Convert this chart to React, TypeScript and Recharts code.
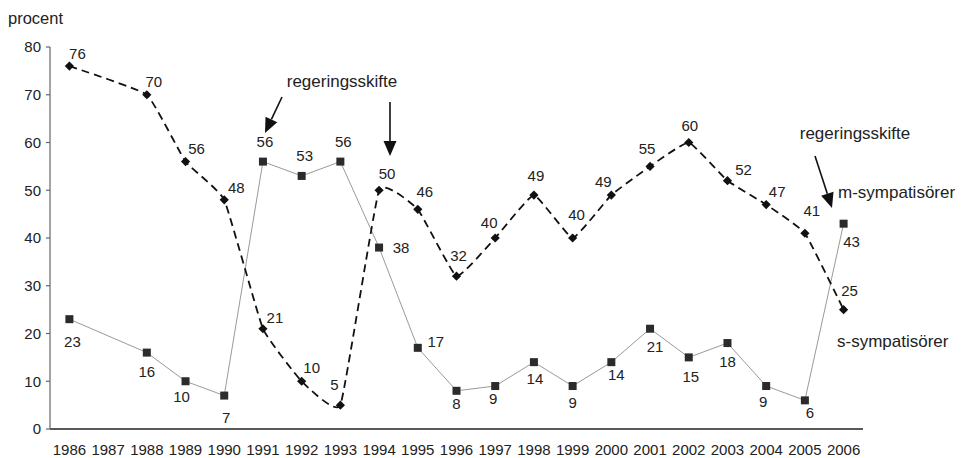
import React from 'react';
import { LineChart, Line, XAxis, YAxis, LabelList } from 'recharts';

// --- data ---
const years = ['1986', '1987', '1988', '1989', '1990', '1991', '1992', '1993', '1994', '1995', '1996',
  '1997', '1998', '1999', '2000', '2001', '2002', '2003', '2004', '2005', '2006'];
const mSympatisorer = [76, null, 70, 56, 48, 21, 10, 5, 50, 46, 32, 40, 49, 40, 49, 55, 60, 52, 47, 41, 25];
const sSympatisorer = [23, null, 16, 10, 7, 56, 53, 56, 38, 17, 8, 9, 14, 9, 14, 21, 15, 18, 9, 6, 43];
const yTicks = [0, 10, 20, 30, 40, 50, 60, 70, 80];

// label placement (dx, dy from the marker)
const mLabelOffset: Record<string, [number, number]> = {
  '1986': [8, -12], '1988': [7, -13], '1989': [11, -13], '1990': [12, -12], '1991': [12, -11],
  '1992': [10, -13], '1993': [-6, -20], '1994': [8, -16], '1995': [7, -17], '1996': [2, -20],
  '1997': [-6, -15], '1998': [2, -19], '1999': [4, -23], '2000': [-8, -13], '2001': [-3, -17],
  '2002': [1, -17], '2003': [16, -11], '2004': [11, -13], '2005': [7, -22], '2006': [6, -19],
};
const sLabelOffset: Record<string, [number, number]> = {
  '1986': [3, 23], '1988': [0, 19], '1989': [-4, 16], '1990': [2, 22], '1991': [2, -20],
  '1992': [3, -20], '1993': [3, -20], '1994': [22, 0], '1995': [18, -6], '1996': [0, 13],
  '1997': [-2, 13], '1998': [1, 17], '1999': [0, 17], '2000': [5, 13], '2001': [5, 18],
  '2002': [2, 20], '2003': [0, 19], '2004': [-3, 16], '2005': [5, 13], '2006': [8, 18],
};

const data = years.map((year, i) => ({ year, m: mSympatisorer[i], s: sSympatisorer[i] }));

const FONT = '"Liberation Sans", Arial, Helvetica, sans-serif';
const TEXT = '#222';

// mild smoothing, cardinal spline with high tension
const smoothCurve = (context: any) => {
  let pts: number[][] = [];
  const k = 1 / 18;
  return {
    areaStart() {},
    areaEnd() {},
    lineStart() { pts = []; },
    point(x: number, y: number) { pts.push([+x, +y]); },
    lineEnd() {
      if (!pts.length) return;
      context.moveTo(pts[0][0], pts[0][1]);
      for (let i = 0; i < pts.length - 1; i++) {
        const p0 = pts[Math.max(i - 1, 0)];
        const p1 = pts[i];
        const p2 = pts[i + 1];
        const p3 = pts[Math.min(i + 2, pts.length - 1)];
        context.bezierCurveTo(
          p1[0] + (p2[0] - p0[0]) * k, p1[1] + (p2[1] - p0[1]) * k,
          p2[0] - (p3[0] - p1[0]) * k, p2[1] - (p3[1] - p1[1]) * k,
          p2[0], p2[1]);
      }
    },
  };
};

const Diamond = (props: any) => {
  const { cx, cy, index } = props;
  if (cx == null || cy == null || props.value == null) return <g key={`d${index}`} />;
  const r = 4.6;
  return (
    <polygon key={`d${index}`} points={`${cx},${cy - r} ${cx + r},${cy} ${cx},${cy + r} ${cx - r},${cy}`} fill="#111" />
  );
};

const Square = (props: any) => {
  const { cx, cy, index } = props;
  if (cx == null || cy == null || props.value == null) return <g key={`s${index}`} />;
  return <rect key={`s${index}`} x={cx - 4} y={cy - 4} width={8} height={8} fill="#2b2b2b" />;
};

const makeLabel = (offsets: Record<string, [number, number]>) => (props: any) => {
  const { x, y, value, index } = props;
  if (value == null || x == null || y == null) return null;
  const [dx, dy] = offsets[years[index]] || [0, -15];
  return (
    <text key={`l${index}`} x={x + dx} y={y + dy + 5} textAnchor="middle" fontSize={15} fontFamily={FONT} fill={TEXT}>
      {value}
    </text>
  );
};

const Arrow = ({ x1, y1, x2, y2 }: { x1: number; y1: number; x2: number; y2: number }) => {
  const len = Math.hypot(x2 - x1, y2 - y1);
  const ux = (x2 - x1) / len;
  const uy = (y2 - y1) / len;
  const head = 15;
  const half = 6.5;
  const bx = x2 - ux * head;
  const by = y2 - uy * head;
  return (
    <g>
      <line x1={x1} y1={y1} x2={bx} y2={by} stroke="#111" strokeWidth={1.6} />
      <polygon points={`${x2},${y2} ${bx - uy * half},${by + ux * half} ${bx + uy * half},${by - ux * half}`} fill="#111" />
    </g>
  );
};

export default function App() {
  return (
    <div style={{ position: 'absolute', left: 0, top: 0, width: 963, height: 458, background: '#fff' }}>
      <LineChart width={963} height={458} data={data} margin={{ top: 47, right: 100, bottom: 3, left: 10 }}>
        <XAxis
          dataKey="year"
          height={26}
          padding={{ left: 19.4, right: 19.4 }}
          tickLine={false}
          tickMargin={9}
          interval={0}
          axisLine={{ stroke: '#222', strokeWidth: 1.5 }}
          tick={{ fontSize: 15, fontFamily: FONT, fill: TEXT }}
        />
        <YAxis
          width={40}
          domain={[0, 80]}
          ticks={yTicks}
          interval={0}
          tickSize={4}
          tickMargin={5}
          axisLine={{ stroke: '#666', strokeWidth: 1.2 }}
          tickLine={{ stroke: '#666', strokeWidth: 1.2 }}
          tick={{ fontSize: 15, fontFamily: FONT, fill: TEXT }}
        />
        <Line
          dataKey="s"
          type="linear"
          stroke="#9a9a9a"
          strokeWidth={1}
          connectNulls
          dot={Square}
          activeDot={false}
          isAnimationActive={false}
        >
          <LabelList dataKey="s" content={makeLabel(sLabelOffset)} />
        </Line>
        <Line
          dataKey="m"
          type={smoothCurve as any}
          stroke="#111"
          strokeWidth={1.8}
          strokeDasharray="8 5"
          connectNulls
          dot={Diamond}
          activeDot={false}
          isAnimationActive={false}
        >
          <LabelList dataKey="m" content={makeLabel(mLabelOffset)} />
        </Line>
      </LineChart>
      <svg width={963} height={458} style={{ position: 'absolute', left: 0, top: 0, pointerEvents: 'none' }}>
        <g fontFamily={FONT} fill={TEXT} fontSize={17}>
          <text x={8} y={24} fontSize={16.5}>procent</text>
          <text x={342} y={87} textAnchor="middle">regeringsskifte</text>
          <text x={855} y={139} textAnchor="middle">regeringsskifte</text>
          <text x={838} y={198}>m-sympatisörer</text>
          <text x={837} y={347}>s-sympatisörer</text>
        </g>
        <Arrow x1={282} y1={97} x2={265} y2={133} />
        <Arrow x1={390} y1={102} x2={390} y2={156} />
        <Arrow x1={815} y1={156} x2={832} y2={208} />
      </svg>
    </div>
  );
}
